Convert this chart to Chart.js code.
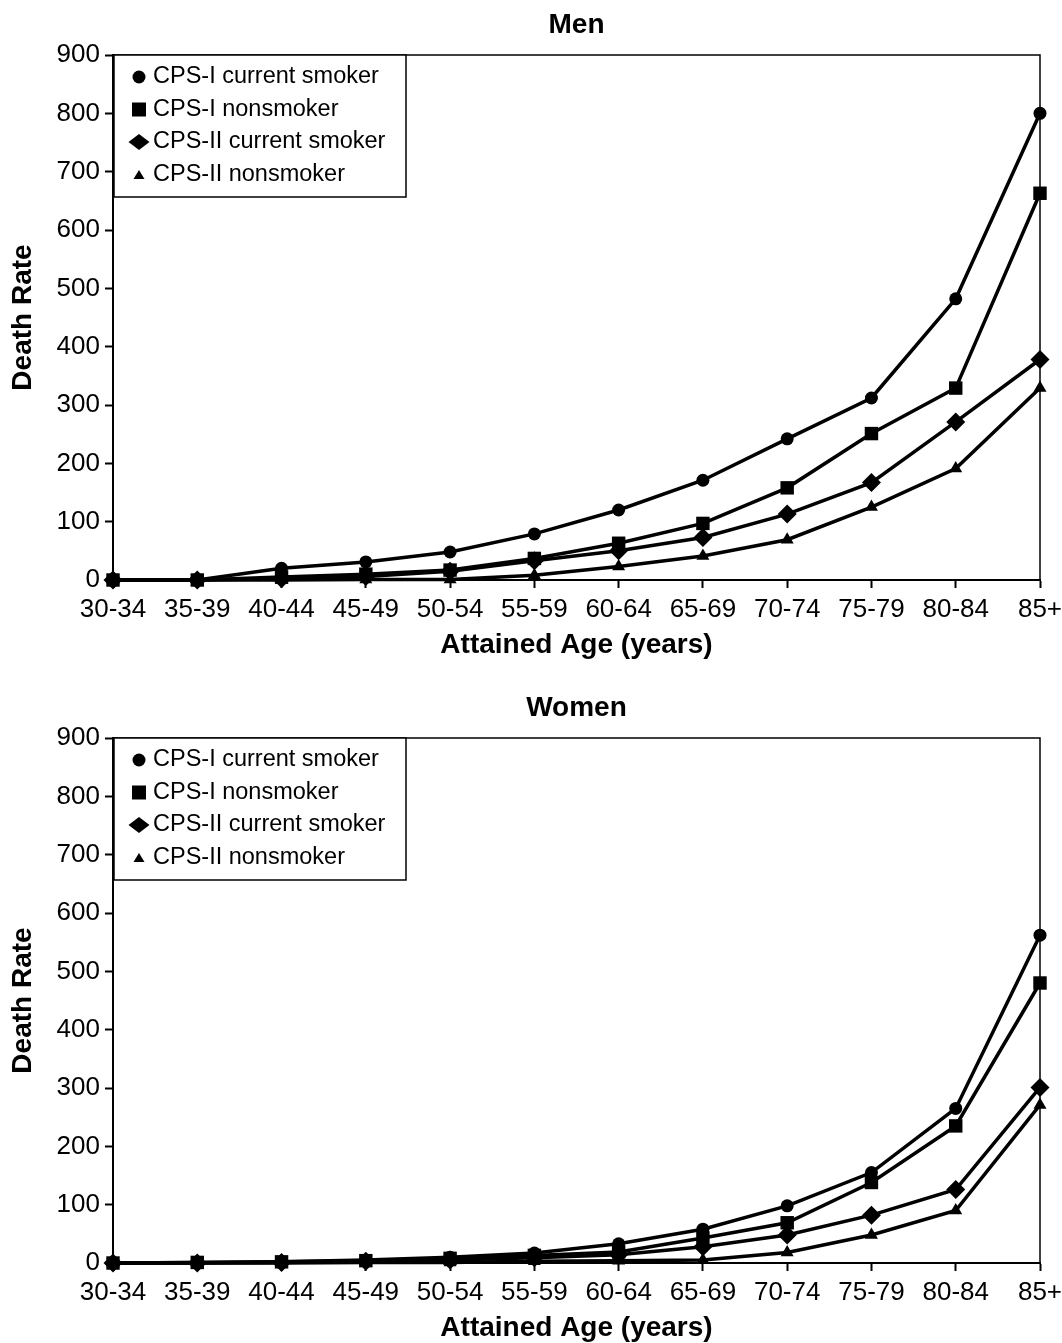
<!DOCTYPE html>
<html>
<head>
<meta charset="utf-8">
<script src="https://cdn.jsdelivr.net/npm/chart.js@4.4.1/dist/chart.umd.min.js"></script>
<style>
  html, body { margin: 0; padding: 0; background: #fff; overflow: hidden; }
  .panel { position: absolute; left: 0; width: 1062px; height: 683px; }
</style>
</head>
<body>
<div class="panel" style="top:0"><canvas id="menChart" width="1062" height="683"></canvas></div>
<div class="panel" style="top:683px"><canvas id="womenChart" width="1062" height="683"></canvas></div>
<script>
/* ---- Data ---- */
const ageGroups = ["30-34", "35-39", "40-44", "45-49", "50-54", "55-59",
                   "60-64", "65-69", "70-74", "75-79", "80-84", "85+"];
const seriesNames = ["CPS-I current smoker", "CPS-I nonsmoker",
                     "CPS-II current smoker", "CPS-II nonsmoker"];
const yMin = 0;
const yMax = 900;
const yStep = 100;

const menCpsICurrent  = [0, 0, 20, 31, 48, 79, 120, 171, 242, 312, 482, 800];
const menCpsINon      = [0, 0, 5, 10, 17, 37, 63, 97, 158, 251, 329, 663];
const menCpsIICurrent = [0, 0, 2, 6, 15, 33, 50, 73, 113, 167, 271, 378];
const menCpsIINon     = [0, 0, 0, 1, 1, 8, 23, 41, 69, 125, 191, 329];

const womenCpsICurrent  = [0, 1, 2, 5, 10, 17, 33, 58, 98, 155, 265, 562];
const womenCpsINon      = [0, 1, 2, 4, 8, 13, 19, 43, 69, 138, 235, 480];
const womenCpsIICurrent = [0, 0, 1, 3, 5, 9, 14, 28, 48, 82, 126, 301];
const womenCpsIINon     = [0, 0, 0, 1, 1, 3, 4, 5, 18, 48, 90, 271];

/* ---- Styles ---- */
const FONT = "'Liberation Sans', Arial, Helvetica, sans-serif";
const markers = [
  { style: "circle",   radius: 6.5 },
  { style: "rect",     radius: 9.5 },
  { style: "rectRot",  radius: 9.5 },
  { style: "triangle", radius: 7.5 }
];

function makeDatasets(values) {
  return values.map((data, i) => ({
    label: seriesNames[i],
    data: data,
    borderColor: "#000",
    backgroundColor: "#000",
    borderWidth: 3.5,
    tension: 0,
    pointStyle: markers[i].style,
    pointRadius: markers[i].radius,
    pointHoverRadius: markers[i].radius,
    pointBackgroundColor: "#000",
    pointBorderColor: "#000",
    pointBorderWidth: 0,
    clip: false
  }));
}

/* legend marker drawing */
function drawMarker(ctx, style, x, y) {
  ctx.beginPath();
  if (style === "circle") {
    ctx.arc(x, y, 6.5, 0, Math.PI * 2);
  } else if (style === "rect") {
    ctx.rect(x - 7, y - 7, 14, 14);
  } else if (style === "rectRot") {
    ctx.moveTo(x - 10.5, y);
    ctx.lineTo(x, y - 8);
    ctx.lineTo(x + 10.5, y);
    ctx.lineTo(x, y + 8);
    ctx.closePath();
  } else {
    ctx.moveTo(x - 5.5, y + 4.5);
    ctx.lineTo(x, y - 4.5);
    ctx.lineTo(x + 5.5, y + 4.5);
    ctx.closePath();
  }
  ctx.fill();
}

/* ---- Plot frame (top and right edges) ---- */
const frameLines = {
  id: "frameLines",
  beforeDatasetsDraw(chart) {
    const { ctx, chartArea } = chart;
    ctx.save();
    ctx.strokeStyle = "#000";
    ctx.lineWidth = 1.5;
    ctx.beginPath();
    ctx.moveTo(chartArea.left, chartArea.top);
    ctx.lineTo(chartArea.right, chartArea.top);
    ctx.lineTo(chartArea.right, chartArea.bottom);
    ctx.stroke();
    ctx.restore();
  }
};

/* ---- Boxed legend inside the plot ---- */
const boxLegend = {
  id: "boxLegend",
  afterDraw(chart) {
    const { ctx, chartArea } = chart;
    const left = chartArea.left + 1;
    const top = chartArea.top;
    ctx.save();
    ctx.fillStyle = "#fff";
    ctx.fillRect(left, top, 292, 142);
    ctx.strokeStyle = "#000";
    ctx.lineWidth = 1.5;
    ctx.strokeRect(left, top, 292, 142);
    ctx.font = "23.5px " + FONT;
    ctx.textBaseline = "middle";
    ctx.textAlign = "left";
    chart.data.datasets.forEach((ds, i) => {
      const y = top + 22 + i * 32.5;
      ctx.fillStyle = "#000";
      drawMarker(ctx, ds.pointStyle, left + 25, y);
      ctx.fillText(ds.label, left + 39, y);
    });
    ctx.restore();
  }
};

function makeChart(canvasId, titleText, values) {
  return new Chart(document.getElementById(canvasId), {
    type: "line",
    data: { labels: ageGroups, datasets: makeDatasets(values) },
    options: {
      responsive: false,
      animation: false,
      devicePixelRatio: 1,
      layout: { padding: { left: 0, right: 22, top: 0, bottom: 0 } },
      plugins: {
        legend: { display: false },
        tooltip: { enabled: false },
        title: {
          display: true,
          text: titleText,
          color: "#000",
          fullSize: false,
          font: { family: FONT, size: 28, weight: "bold", lineHeight: 1.2 },
          padding: { top: 8.2, bottom: 13.2 }
        }
      },
      scales: {
        x: {
          type: "category",
          offset: false,
          afterFit(scale) {
            scale.height = 103;
            scale.paddingLeft = 0;
            scale.paddingRight = 0;
          },
          grid: {
            drawOnChartArea: false,
            drawTicks: true,
            tickLength: 8,
            tickWidth: 2,
            tickColor: "#000"
          },
          border: { display: true, color: "#000", width: 2 },
          ticks: {
            color: "#000",
            font: { family: FONT, size: 26 },
            padding: 6,
            maxRotation: 0,
            autoSkip: false
          },
          title: {
            display: true,
            text: "Attained Age (years)",
            color: "#000",
            font: { family: FONT, size: 28, weight: "bold", lineHeight: 1.2 },
            padding: { top: 0, bottom: 21 }
          }
        },
        y: {
          min: yMin,
          max: yMax,
          afterFit(scale) { scale.width = 113; },
          grid: {
            drawOnChartArea: false,
            drawTicks: true,
            tickLength: 8,
            tickWidth: 2,
            tickColor: "#000"
          },
          border: { display: true, color: "#000", width: 2 },
          ticks: {
            stepSize: yStep,
            color: "#000",
            font: { family: FONT, size: 26 },
            padding: 5
          },
          title: {
            display: true,
            text: "Death Rate",
            color: "#000",
            font: { family: FONT, size: 28, weight: "bold", lineHeight: 1.2 },
            padding: { top: 6.5, bottom: 0 }
          }
        }
      }
    },
    plugins: [frameLines, boxLegend]
  });
}

makeChart("menChart", "Men", [menCpsICurrent, menCpsINon, menCpsIICurrent, menCpsIINon]);
makeChart("womenChart", "Women", [womenCpsICurrent, womenCpsINon, womenCpsIICurrent, womenCpsIINon]);
</script>
</body>
</html>
